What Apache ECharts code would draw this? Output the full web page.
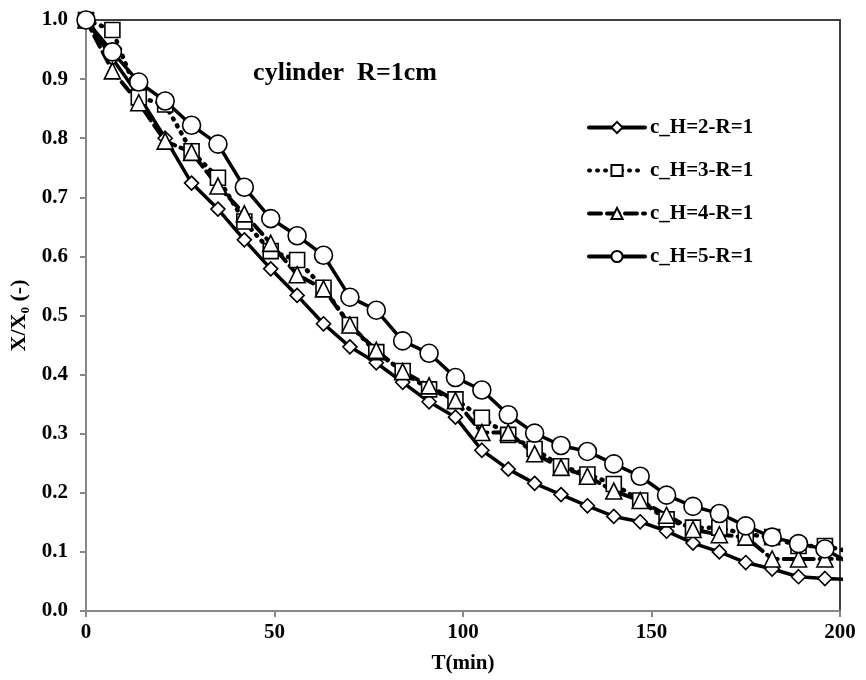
<!DOCTYPE html>
<html>
<head>
<meta charset="utf-8">
<script src="https://cdn.jsdelivr.net/npm/echarts@6/dist/echarts.min.js"></script>
<style>
html,body{margin:0;padding:0;background:#fff;}
#chart{width:866px;height:680px;}
</style>
</head>
<body>
<div id="chart"></div>
<script>
// time points (min); last point lies just beyond the axis and is clipped
var times = [0,7,14,21,28,35,42,49,56,63,70,77,84,91,98,105,112,119,126,133,140,147,154,161,168,175,182,189,196,203];
var seriesNames = ['c_H=2-R=1','c_H=3-R=1','c_H=4-R=1','c_H=5-R=1'];
var h2 = [1.0,0.935,0.872,0.800,0.724,0.680,0.628,0.579,0.534,0.486,0.447,0.420,0.387,0.354,0.328,0.272,0.240,0.216,0.197,0.178,0.160,0.151,0.135,0.115,0.100,0.082,0.071,0.058,0.055,0.053];
var h3 = [1.0,0.983,0.869,0.857,0.778,0.733,0.659,0.609,0.594,0.547,0.484,0.438,0.406,0.375,0.358,0.327,0.298,0.274,0.245,0.231,0.215,0.187,0.155,0.141,0.141,0.130,0.125,0.110,0.110,0.100];
var h4 = [1.0,0.914,0.860,0.795,0.776,0.719,0.672,0.622,0.569,0.545,0.484,0.441,0.405,0.381,0.356,0.302,0.302,0.266,0.243,0.228,0.203,0.187,0.162,0.138,0.129,0.125,0.088,0.088,0.088,0.089];
var h5 = [1.0,0.946,0.895,0.863,0.822,0.790,0.717,0.664,0.635,0.602,0.531,0.509,0.457,0.436,0.395,0.374,0.332,0.301,0.280,0.270,0.249,0.228,0.196,0.177,0.165,0.144,0.125,0.114,0.105,0.079];
var xTicks = [0,50,100,150,200];
var yTicks = [0,0.1,0.2,0.3,0.4,0.5,0.6,0.7,0.8,0.9,1.0];

function pairs(ys){ return times.map(function(t,i){ return [t, ys[i]]; }); }

var FONT = '"Liberation Serif","Times New Roman",serif';
var chart = echarts.init(document.getElementById('chart'));

function mk(name, ys, symbol, size, lineType, lineWidth){
  return {
    name: name, type: 'line', data: pairs(ys), clip: true,
    symbol: symbol, symbolSize: size, showAllSymbol: true,
    itemStyle: {color: '#fff', borderColor: '#000', borderWidth: 1.6},
    lineStyle: {color: '#000', width: lineWidth, type: lineType, cap: 'round'},
    emphasis: {disabled: true},
    animation: false
  };
}

chart.setOption({
  backgroundColor: '#fff',
  animation: false,
  grid: {left: 86, right: 26, top: 20, bottom: 69, show: true, borderColor: '#404040', borderWidth: 2, backgroundColor: 'transparent'},
  title: {
    text: 'cylinder  R=1cm', left: 340, top: 55, textAlign: 'center',
    textStyle: {fontFamily: FONT, fontWeight: 'bold', fontSize: 26, color: '#000'}
  },
  legend: {
    orient: 'vertical', left: 582, top: 112, itemWidth: 56, itemHeight: 14, itemGap: 22,
    data: seriesNames,
    lineStyle: {width: 4},
    textStyle: {fontFamily: FONT, fontWeight: 'bold', fontSize: 21, color: '#000'}
  },
  xAxis: {
    type: 'value', min: 0, max: 200, interval: 50,
    name: 'T(min)', nameLocation: 'middle', nameGap: 42,
    nameTextStyle: {fontFamily: FONT, fontWeight: 'bold', fontSize: 21, color: '#000'},
    axisLine: {show: true, onZero: false, lineStyle: {color: '#888', width: 2}},
    axisTick: {show: true, length: 6, lineStyle: {color: '#888', width: 2}},
    axisLabel: {fontFamily: FONT, fontWeight: 'bold', fontSize: 21, color: '#000', margin: 11,
      formatter: function(v){ return xTicks.indexOf(v) >= 0 ? String(v) : ''; }},
    splitLine: {show: false}
  },
  yAxis: {
    type: 'value', min: 0, max: 1.0, interval: 0.1,
    name: 'X/X\u2080 (-)', nameLocation: 'middle', nameGap: 56, nameRotate: 90,
    nameTextStyle: {fontFamily: FONT, fontWeight: 'bold', fontSize: 22, color: '#000'},
    axisLine: {show: true, onZero: false, lineStyle: {color: '#888', width: 2}},
    axisTick: {show: true, length: 6, lineStyle: {color: '#888', width: 2}},
    axisLabel: {fontFamily: FONT, fontWeight: 'bold', fontSize: 21, color: '#000', margin: 18,
      formatter: function(v){ return v.toFixed(1); }},
    splitLine: {show: false}
  },
  series: [
    mk(seriesNames[0], h2, 'diamond', 14, 'solid', 3.5),
    mk(seriesNames[1], h3, 'rect', 15, [1, 7], 4.5),
    mk(seriesNames[2], h4, 'triangle', 16, [12, 6], 4),
    mk(seriesNames[3], h5, 'circle', 18, 'solid', 3.5)
  ]
});
</script>
</body>
</html>
